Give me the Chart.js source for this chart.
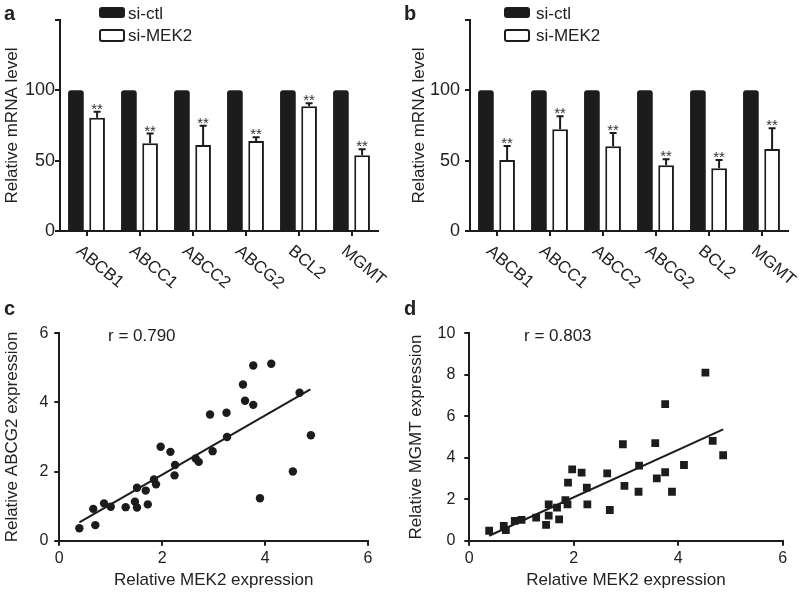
<!DOCTYPE html>
<html>
<head>
<meta charset="utf-8">
<script src="https://cdn.jsdelivr.net/npm/chart.js@4.4.0/dist/chart.umd.min.js"></script>
<style>
body { margin: 0; background: #fff; }
#wrap { position: relative; width: 800px; height: 592px; }
canvas { position: absolute; }
</style>
</head>
<body>
<div id="wrap">
  <canvas id="chartA" width="400" height="292" style="left:0;top:0"></canvas>
  <canvas id="chartB" width="400" height="292" style="left:400px;top:0"></canvas>
  <canvas id="chartC" width="400" height="300" style="left:0;top:292px"></canvas>
  <canvas id="chartD" width="400" height="300" style="left:400px;top:292px"></canvas>
</div>
<script>
// panel a / b : relative mRNA level
const genes = ['ABCB1', 'ABCC1', 'ABCC2', 'ABCG2', 'BCL2', 'MGMT'];
const ctlA = [100, 100, 100, 100, 100, 100];
const mekA = [80.5, 62.3, 61.1, 64, 88.6, 53.8];
const sdA = [4.3, 7, 13.8, 2.6, 2.2, 4.3];
const ctlB = [100, 100, 100, 100, 100, 100];
const mekB = [50.4, 72.3, 60.3, 46.7, 44.6, 58.3];
const sdB = [10.1, 9.3, 9.4, 4.3, 5.9, 14.7];
const barTicks = [0, 50, 100, 150];

// panel c : ABCG2 vs MEK2
const mek2C = [0.39, 0.66, 0.70, 0.87, 1.00, 1.29, 1.47, 1.51, 1.51, 1.68, 1.72, 1.84, 1.88, 1.97, 2.16, 2.25,
               2.24, 2.65, 2.71, 2.93, 2.98, 3.25, 3.26, 3.57, 3.61, 3.77, 3.77, 4.12, 3.90, 4.54, 4.67, 4.89];
const abcg2C = [0.36, 0.92, 0.45, 1.08, 0.98, 0.97, 1.13, 1.53, 0.96, 1.45, 1.05, 1.77, 1.63, 2.72, 2.57, 2.19,
                1.89, 2.38, 2.28, 3.65, 2.59, 3.70, 3.00, 4.52, 4.05, 5.07, 3.93, 5.12, 1.23, 2.00, 4.28, 3.05];
const fitCx = [0.39, 4.88];
const fitCy = [0.53, 4.38];
const ticksC = [0, 2, 4, 6];

// panel d : MGMT vs MEK2
const mek2D = [0.38, 0.66, 0.70, 0.87, 1.00, 1.28, 1.47, 1.52, 1.52, 1.68, 1.72, 1.84, 1.88, 1.89, 1.97, 2.15, 2.25,
               2.26, 2.64, 2.69, 2.94, 2.97, 3.24, 3.25, 3.56, 3.59, 3.75, 3.75, 3.88, 4.11, 4.52, 4.66, 4.86];
const mgmtD = [0.48, 0.71, 0.51, 0.96, 1.00, 1.11, 0.76, 1.75, 1.21, 1.59, 1.03, 1.96, 1.75, 2.80, 3.44, 3.28, 2.56,
               1.75, 3.25, 1.48, 4.65, 2.64, 2.36, 3.62, 4.70, 3.00, 6.58, 3.30, 2.36, 3.65, 8.10, 4.81, 4.12];
const fitDx = [0.38, 4.86];
const fitDy = [0.24, 5.37];
const ticksD = [0, 2, 4, 6, 8, 10];
const ticksX = [0, 2, 4, 6];

const ink = '#1c1c1c';
const txt = '#222';
const fam = '"Liberation Sans", Arial, sans-serif';
Chart.defaults.font.family = fam;
Chart.defaults.color = txt;

function setTicks(list) {
    return function(scale) {
        scale.ticks = list.map(v => ({ value: v }));
    };
}

function rrect(ctx, x, y, w, h, r) {
    ctx.beginPath();
    ctx.moveTo(x + r, y);
    ctx.arcTo(x + w, y, x + w, y + h, r);
    ctx.arcTo(x + w, y + h, x, y + h, r);
    ctx.arcTo(x, y + h, x, y, r);
    ctx.arcTo(x, y, x + w, y, r);
    ctx.closePath();
}

const barExtras = {
    id: 'barExtras',
    afterDatasetsDraw(chart, args, opts) {
        const ctx = chart.ctx;
        const xs = chart.scales.x;
        const ys = chart.scales.y;
        const mek = chart.data.datasets[1].data;
        ctx.save();

        // error bars + stars on si-MEK2
        ctx.strokeStyle = ink;
        ctx.lineWidth = 2;
        ctx.fillStyle = '#333';
        ctx.font = '15px ' + fam;
        ctx.textAlign = 'center';
        ctx.textBaseline = 'alphabetic';
        chart.getDatasetMeta(1).data.forEach(function(bar, i) {
            const top = ys.getPixelForValue(mek[i] + opts.sd[i]);
            ctx.beginPath();
            ctx.moveTo(bar.x, bar.y);
            ctx.lineTo(bar.x, top);
            ctx.moveTo(bar.x - 3.5, top);
            ctx.lineTo(bar.x + 3.5, top);
            ctx.stroke();
            ctx.fillText('**', bar.x, top + 2);
        });

        // rotated category labels
        ctx.fillStyle = txt;
        ctx.font = '17px ' + fam;
        ctx.textAlign = 'left';
        ctx.textBaseline = 'middle';
        chart.data.labels.forEach(function(g, i) {
            const px = xs.getPixelForValue(i);
            ctx.save();
            ctx.translate(px - 8, xs.top + 18);
            ctx.rotate(40 * Math.PI / 180);
            ctx.fillText(g, 0, 0);
            ctx.restore();
        });

        // legend
        const lx = opts.legendX;
        ctx.fillStyle = ink;
        rrect(ctx, lx, 7, 26, 11, 3);
        ctx.fill();
        ctx.lineWidth = 2;
        rrect(ctx, lx + 1, 30, 24, 11, 2);
        ctx.stroke();
        ctx.fillStyle = txt;
        ctx.textBaseline = 'alphabetic';
        ctx.fillText(chart.data.datasets[0].label, opts.legendTextX, 18.5);
        ctx.fillText(chart.data.datasets[1].label, opts.legendTextX, 41);

        // panel letter
        ctx.font = 'bold 20px ' + fam;
        ctx.fillText(opts.letter, opts.letterX, 20);
        ctx.restore();
    }
};

const scatterExtras = {
    id: 'scatterExtras',
    afterDraw(chart, args, opts) {
        const ctx = chart.ctx;
        ctx.save();
        ctx.fillStyle = txt;
        ctx.textAlign = 'left';
        ctx.textBaseline = 'alphabetic';
        ctx.font = '17px ' + fam;
        ctx.fillText(opts.rText, opts.rX, 49);
        ctx.font = 'bold 20px ' + fam;
        ctx.fillText(opts.letter, 4, 23);
        ctx.restore();
    }
};

function axisBase() {
    return {
        border: { color: ink, width: 2 },
        grid: { offset: false, drawOnChartArea: false, tickLength: 5, color: ink, lineWidth: 2 }
    };
}

function barChart(id, ctl, mek, sd, cfg) {
    const x = axisBase();
    x.ticks = { display: false };
    x.afterFit = function(s) { s.height = 61; };
    const y = axisBase();
    y.min = 0;
    y.max = 150;
    y.afterBuildTicks = setTicks(barTicks);
    y.ticks = {
        padding: cfg.tickPad,
        font: { size: 18 },
        callback: function(v) { return v === 150 ? '' : v; }
    };
    y.title = { display: true, text: 'Relative mRNA level', font: { size: 17 }, padding: { top: cfg.titlePad, bottom: 0 } };
    y.afterFit = function(s) { s.width = cfg.yWidth; };

    return new Chart(document.getElementById(id), {
        type: 'bar',
        data: {
            labels: genes,
            datasets: [{
                label: 'si-ctl',
                data: ctl,
                backgroundColor: ink,
                borderRadius: 3,
                categoryPercentage: 0.8,
                barPercentage: 0.74
            }, {
                label: 'si-MEK2',
                data: mek,
                backgroundColor: '#fff',
                borderColor: ink,
                borderWidth: 2,
                categoryPercentage: 0.8,
                barPercentage: 0.74
            }]
        },
        options: {
            responsive: false,
            animation: false,
            layout: { padding: { left: 0, right: cfg.padRight, top: 20, bottom: 0 } },
            plugins: {
                legend: { display: false },
                tooltip: { enabled: false },
                barExtras: { sd: sd, letter: cfg.letter, letterX: 4, legendX: cfg.legendX, legendTextX: cfg.legendTextX }
            },
            scales: { x: x, y: y }
        },
        plugins: [barExtras]
    });
}

function scatterChart(id, xs, ys, fx, fy, yTicks, cfg) {
    const x = axisBase();
    x.type = 'linear';
    x.min = 0;
    x.max = 6;
    x.afterBuildTicks = setTicks(ticksX);
    x.ticks = { padding: 3, font: { size: 16 } };
    x.title = { display: true, text: 'Relative MEK2 expression', font: { size: 17 }, padding: { top: 0, bottom: 1 } };
    x.afterFit = function(s) { s.height = 51.3; };
    const y = axisBase();
    y.min = 0;
    y.max = yTicks[yTicks.length - 1];
    y.afterBuildTicks = setTicks(yTicks);
    y.ticks = { padding: cfg.tickPad, font: { size: 16 } };
    y.title = { display: true, text: cfg.yTitle, font: { size: 17 }, padding: { top: cfg.titlePad, bottom: 0 } };
    y.afterFit = function(s) { s.width = cfg.yWidth; };

    return new Chart(document.getElementById(id), {
        type: 'scatter',
        data: {
            datasets: [{
                data: xs.map((v, i) => ({ x: v, y: ys[i] })),
                pointStyle: cfg.shape,
                pointRadius: cfg.radius,
                backgroundColor: ink,
                borderWidth: 0
            }, {
                type: 'line',
                data: fx.map((v, i) => ({ x: v, y: fy[i] })),
                borderColor: ink,
                borderWidth: 2,
                pointRadius: 0,
                fill: false
            }]
        },
        options: {
            responsive: false,
            animation: false,
            layout: { padding: { left: 0, right: cfg.padRight, top: 41.3, bottom: 0 } },
            plugins: {
                legend: { display: false },
                tooltip: { enabled: false },
                scatterExtras: { letter: cfg.letter, rText: cfg.rText, rX: cfg.rX }
            },
            scales: { x: x, y: y }
        },
        plugins: [scatterExtras]
    });
}

barChart('chartA', ctlA, mekA, sdA, {
    letter: 'a', yWidth: 60, padRight: 22, tickPad: 0, titlePad: 2, legendX: 99, legendTextX: 128
});
barChart('chartB', ctlB, mekB, sdB, {
    letter: 'b', yWidth: 70, padRight: 12, tickPad: 5, titlePad: 9, legendX: 104, legendTextX: 136
});
scatterChart('chartC', mek2C, abcg2C, fitCx, fitCy, ticksC, {
    letter: 'c', yTitle: 'Relative ABCG2 expression', yWidth: 59.3, padRight: 32, tickPad: 6, titlePad: 2,
    shape: 'circle', radius: 4.2, rText: 'r = 0.790', rX: 108
});
scatterChart('chartD', mek2D, mgmtD, fitDx, fitDy, ticksD, {
    letter: 'd', yTitle: 'Relative MGMT expression', yWidth: 69.3, padRight: 17.3, tickPad: 9, titlePad: 6.5,
    shape: 'rect', radius: 5.5, rText: 'r = 0.803', rX: 124
});
</script>
</body>
</html>
